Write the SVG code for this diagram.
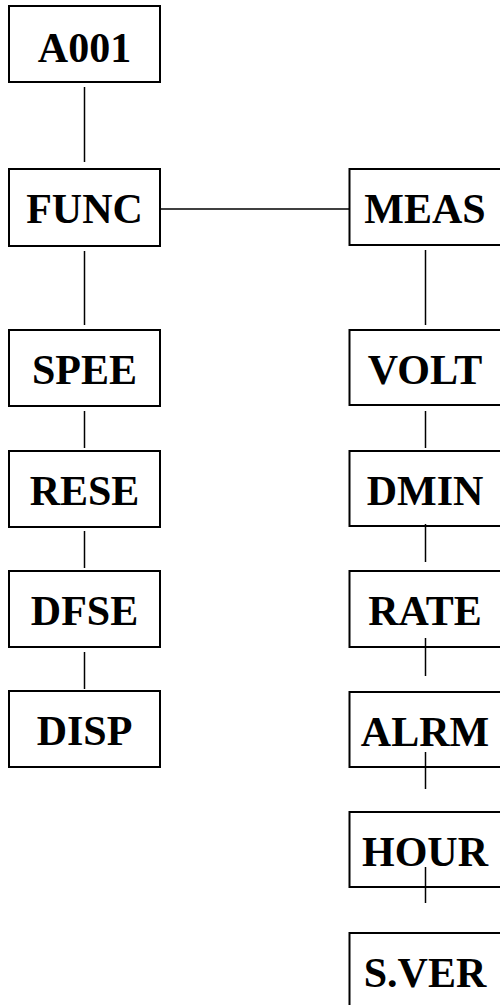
<svg xmlns="http://www.w3.org/2000/svg" width="500" height="1005" viewBox="0 0 500 1005">
<style>
.box{fill:#fff;stroke:#000;stroke-width:2}
.t{font-family:"Liberation Serif","Times New Roman",serif;font-weight:bold;font-size:42px;text-anchor:middle;fill:#000}
.c line{stroke:#000;stroke-width:1.5}
</style>
<rect width="500" height="1005" fill="#fff"/>
<g id="A001"><rect class="box" x="9" y="6" width="151" height="76"/><text class="t" x="84.5" y="62">A001</text></g>
<g id="FUNC"><rect class="box" x="9" y="169" width="151" height="77"/><text class="t" x="84.5" y="223">FUNC</text></g>
<g id="SPEE"><rect class="box" x="9" y="330" width="151" height="76"/><text class="t" x="84.5" y="384">SPEE</text></g>
<g id="RESE"><rect class="box" x="9" y="451" width="151" height="76"/><text class="t" x="84.5" y="505">RESE</text></g>
<g id="DFSE"><rect class="box" x="9" y="571" width="151" height="76"/><text class="t" x="84.5" y="625">DFSE</text></g>
<g id="DISP"><rect class="box" x="9" y="691" width="151" height="76"/><text class="t" x="84.5" y="745">DISP</text></g>
<g id="MEAS"><rect class="box" x="349.5" y="169" width="152" height="76"/><text class="t" x="425" y="223">MEAS</text></g>
<g id="VOLT"><rect class="box" x="349.5" y="330" width="152" height="75"/><text class="t" x="425" y="384">VOLT</text></g>
<g id="DMIN"><rect class="box" x="349.5" y="451" width="152" height="75"/><text class="t" x="425" y="505">DMIN</text></g>
<g id="RATE"><rect class="box" x="349.5" y="571" width="152" height="76"/><text class="t" x="425" y="625">RATE</text></g>
<g id="ALRM"><rect class="box" x="349.5" y="692" width="152" height="75"/><text class="t" x="425" y="746">ALRM</text></g>
<g id="HOUR"><rect class="box" x="349.5" y="812" width="152" height="75"/><text class="t" x="425" y="866">HOUR</text></g>
<g id="SVER"><rect class="box" x="349.5" y="933" width="152" height="80"/><text class="t" x="425" y="987">S.VER</text></g>
<g class="c" id="connectors">
<line x1="84.5" y1="87" x2="84.5" y2="162"/>
<line x1="84.5" y1="251" x2="84.5" y2="325"/>
<line x1="84.5" y1="411" x2="84.5" y2="448"/>
<line x1="84.5" y1="531" x2="84.5" y2="568"/>
<line x1="84.5" y1="652" x2="84.5" y2="689"/>
<line x1="161" y1="209" x2="349" y2="209"/>
<line x1="425.5" y1="250" x2="425.5" y2="325"/>
<line x1="425.5" y1="411" x2="425.5" y2="448"/>
<line x1="425.5" y1="524" x2="425.5" y2="562"/>
<line x1="425.5" y1="638" x2="425.5" y2="676"/>
<line x1="425.5" y1="752" x2="425.5" y2="789"/>
<line x1="425.5" y1="867" x2="425.5" y2="903"/>
</g>
</svg>
